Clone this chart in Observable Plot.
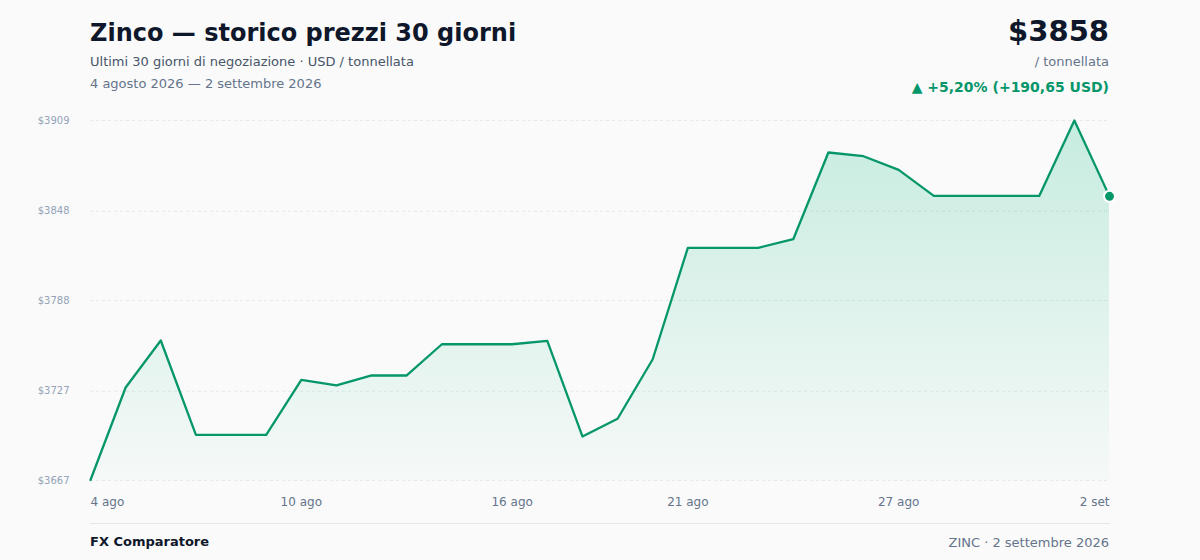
<!DOCTYPE html>
<html>
<head>
<meta charset="utf-8">
<script src="https://cdn.jsdelivr.net/npm/d3@7"></script>
<script src="https://cdn.jsdelivr.net/npm/@observablehq/plot@0.6"></script>
<style>
  html, body { margin: 0; padding: 0; background: #fafafa; }
  body { font-family: "DejaVu Sans", sans-serif; width: 1200px; height: 560px; position: relative; overflow: hidden; }
  .abs { position: absolute; white-space: nowrap; line-height: 1; }
  #title { left: 90px; top: 21px; font-size: 24px; font-weight: bold; color: #0f172a; }
  #sub { left: 90px; top: 55px; font-size: 13px; color: #475569; }
  #range { left: 90px; top: 77px; font-size: 13px; color: #64748b; }
  #price { right: 91px; top: 17px; font-size: 29px; font-weight: bold; color: #0f172a; }
  #unit { right: 91px; top: 55px; font-size: 13px; color: #64748b; }
  #change { right: 91px; top: 80px; font-size: 14px; font-weight: bold; color: #059669; }
  #chart { position: absolute; left: 0; top: 100px; }
  #rule { position: absolute; left: 90px; width: 1020px; top: 523px; height: 1px; background: #e5e7eb; }
  #brand { left: 90px; top: 535px; font-size: 13px; font-weight: bold; color: #0f172a; }
  #src { right: 91px; top: 536px; font-size: 13px; color: #64748b; }
</style>
</head>
<body>
<div class="abs" id="title">Zinco — storico prezzi 30 giorni</div>
<div class="abs" id="sub">Ultimi 30 giorni di negoziazione · USD / tonnellata</div>
<div class="abs" id="range">4 agosto 2026 — 2 settembre 2026</div>
<div class="abs" id="price">$3858</div>
<div class="abs" id="unit">/ tonnellata</div>
<div class="abs" id="change">▲ +5,20% (+190,65 USD)</div>
<div id="chart"></div>
<div id="rule"></div>
<div class="abs" id="brand">FX Comparatore</div>
<div class="abs" id="src">ZINC · 2 settembre 2026</div>
<script>
const dates = [
  "2026-08-04","2026-08-05","2026-08-06","2026-08-07","2026-08-08","2026-08-09",
  "2026-08-10","2026-08-11","2026-08-12","2026-08-13","2026-08-14","2026-08-15",
  "2026-08-16","2026-08-17","2026-08-18","2026-08-19","2026-08-20","2026-08-21",
  "2026-08-22","2026-08-23","2026-08-24","2026-08-25","2026-08-26","2026-08-27",
  "2026-08-28","2026-08-29","2026-08-30","2026-08-31","2026-09-01","2026-09-02"
];
const prices = [
  3667.35, 3729.5, 3761.1, 3697.7, 3697.7, 3697.7,
  3734.7, 3730.9, 3737.6, 3737.6, 3758.6, 3758.6,
  3758.6, 3760.9, 3696.6, 3708.5, 3748.5, 3823.4,
  3823.4, 3823.4, 3829.2, 3887.5, 3885.0, 3875.8,
  3858.3, 3858.3, 3858.3, 3858.3, 3909.0, 3858.0
];
const yTicks = [3667, 3727, 3788, 3848, 3909];
const xTickDates = ["2026-08-04","2026-08-10","2026-08-16","2026-08-21","2026-08-27","2026-09-02"];
const xTickLabels = ["4 ago","10 ago","16 ago","21 ago","27 ago","2 set"];

const data = dates.map((d, i) => ({date: new Date(d + "T00:00:00Z"), price: prices[i]}));
const xt = xTickDates.map(d => new Date(d + "T00:00:00Z"));
const labelOf = new Map(xt.map((d, i) => [+d, xTickLabels[i]]));
const yMin = yTicks[0], yMax = yTicks[yTicks.length - 1];
const green = "#059669";

const defs = () => {
  const ns = "http://www.w3.org/2000/svg";
  const d = document.createElementNS(ns, "defs");
  const g = document.createElementNS(ns, "linearGradient");
  g.setAttribute("id", "areaGrad");
  g.setAttribute("x1", "0"); g.setAttribute("y1", "0");
  g.setAttribute("x2", "0"); g.setAttribute("y2", "1");
  [["0%", 0.22], ["100%", 0.02]].forEach(([o, a]) => {
    const s = document.createElementNS(ns, "stop");
    s.setAttribute("offset", o);
    s.setAttribute("stop-color", "#10b981");
    s.setAttribute("stop-opacity", a);
    g.appendChild(s);
  });
  d.appendChild(g);
  return d;
};

const xAxisCommon = {tickSize: 0, tickPadding: 17, fontSize: 12, fill: "#64748b", tickFormat: d => labelOf.get(+d), label: null};

const chart = Plot.plot({
  width: 1200,
  height: 420,
  marginLeft: 90,
  marginRight: 91,
  marginTop: 20,
  marginBottom: 40,
  style: {fontFamily: "DejaVu Sans, sans-serif", background: "transparent", overflow: "visible"},
  x: {type: "utc", domain: [data[0].date, data[data.length - 1].date]},
  y: {domain: [yMin, yMax]},
  marks: [
    defs,
    Plot.gridY(yTicks, {stroke: "#e5e7eb", strokeOpacity: 1, strokeDasharray: "3,3"}),
    Plot.areaY(data, {x: "date", y1: yMin, y2: "price", fill: "url(#areaGrad)"}),
    Plot.lineY(data, {x: "date", y: "price", stroke: green, strokeWidth: 2.3, strokeLinejoin: "round"}),
    Plot.dot([data[data.length - 1]], {x: "date", y: "price", r: 5.5, fill: green, stroke: "white", strokeWidth: 2}),
    Plot.axisY({ticks: yTicks, tickSize: 0, tickPadding: 21, fontSize: 10, fill: "#94a3b8", tickFormat: d => "$" + d, label: null}),
    Plot.axisX({...xAxisCommon, ticks: [xt[0]], textAnchor: "start"}),
    Plot.axisX({...xAxisCommon, ticks: xt.slice(1, -1)}),
    Plot.axisX({...xAxisCommon, ticks: [xt[xt.length - 1]], textAnchor: "end"})
  ]
});
document.getElementById("chart").appendChild(chart);
</script>
</body>
</html>
